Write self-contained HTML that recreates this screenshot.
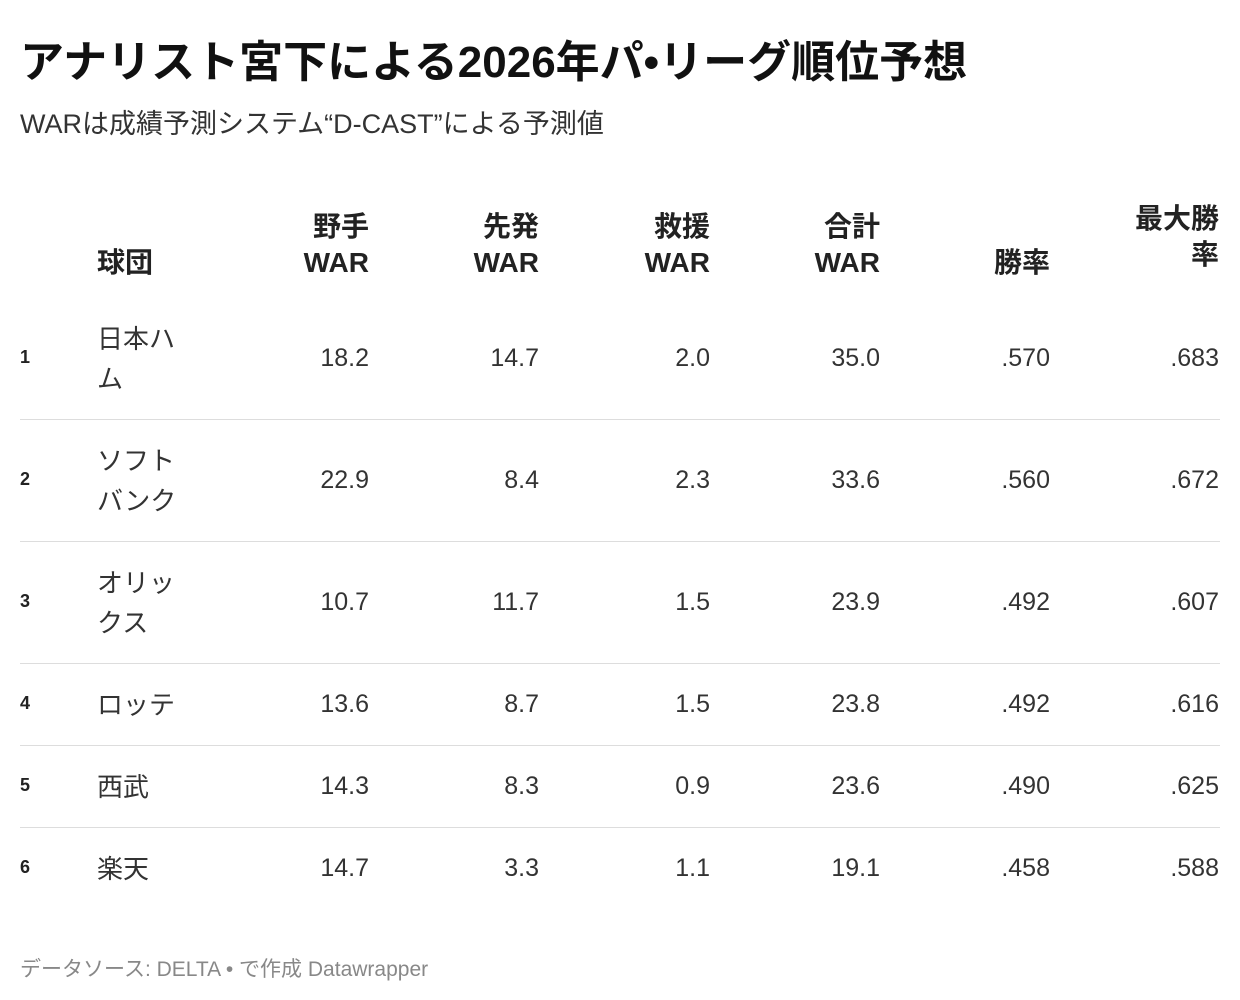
<!DOCTYPE html>
<html><head><meta charset="utf-8"><style>
body{margin:0;width:1240px;height:1000px;background:#fff;font-family:"Liberation Sans","Noto Sans CJK JP",sans-serif;color:#1d1d1d;position:relative;overflow:hidden}
.a{position:absolute;white-space:nowrap}
h1{position:absolute;left:20px;top:26px;margin:0;font-size:44px;font-weight:700;color:#111;letter-spacing:0}
.sub{left:20px;top:102px;font-size:27px;color:#333}
.h{font-size:28px;font-weight:700;text-align:right;line-height:36px;color:#222}
.c{font-size:25px;text-align:right;width:160px;color:#333}
.r{font-size:18px;font-weight:700;left:20px;color:#222}
.t{font-size:26px;left:97px;line-height:40px;color:#333}
.line{position:absolute;left:20px;width:1200px;height:1px;background:#ddd}
.foot{left:20px;top:953px;font-size:21px;color:#888}
</style></head><body>
<h1>アナリスト宮下による2026年パ•リーグ順位予想</h1>
<div class="a sub">WARは成績予測システム“D-CAST”による予測値</div>

<div class="a h" style="left:97px;top:245px;text-align:left">球団</div>
<div class="a h" style="right:871px;top:209px">野手<br>WAR</div>
<div class="a h" style="right:701px;top:209px">先発<br>WAR</div>
<div class="a h" style="right:530px;top:209px">救援<br>WAR</div>
<div class="a h" style="right:360px;top:209px">合計<br>WAR</div>
<div class="a h" style="right:190px;top:245px">勝率</div>
<div class="a h" style="right:21px;top:201px">最大勝<br>率</div>

<div id="rows"></div>
<script>
var d=[["日本ハ<br>ム","18.2","14.7","2.0","35.0",".570",".683",359,2],
["ソフト<br>バンク","22.9","8.4","2.3","33.6",".560",".672",481,2],
["オリッ<br>クス","10.7","11.7","1.5","23.9",".492",".607",603,2],
["ロッテ","13.6","8.7","1.5","23.8",".492",".616",705,1],
["西武","14.3","8.3","0.9","23.6",".490",".625",787,1],
["楽天","14.7","3.3","1.1","19.1",".458",".588",869,1]];
var rights=[369,539,710,880,1050,1219],h="";
d.forEach(function(r,i){var y=r[7];
h+='<div class="a r" style="top:'+(y-12)+'px">'+(i+1)+'</div>';
h+='<div class="a t" style="top:'+(y-r[8]*20)+'px">'+r[0]+'</div>';
for(var k=0;k<6;k++)h+='<div class="a c" style="left:'+(rights[k]-160)+'px;top:'+(y-15)+'px">'+r[k+1]+'</div>';
if(i<5)h+='<div class="line" style="top:'+[419,541,663,745,827][i]+'px"></div>';});
document.getElementById("rows").innerHTML=h;
</script>
<div class="a foot">データソース: DELTA • で作成 Datawrapper</div>
</body></html>
